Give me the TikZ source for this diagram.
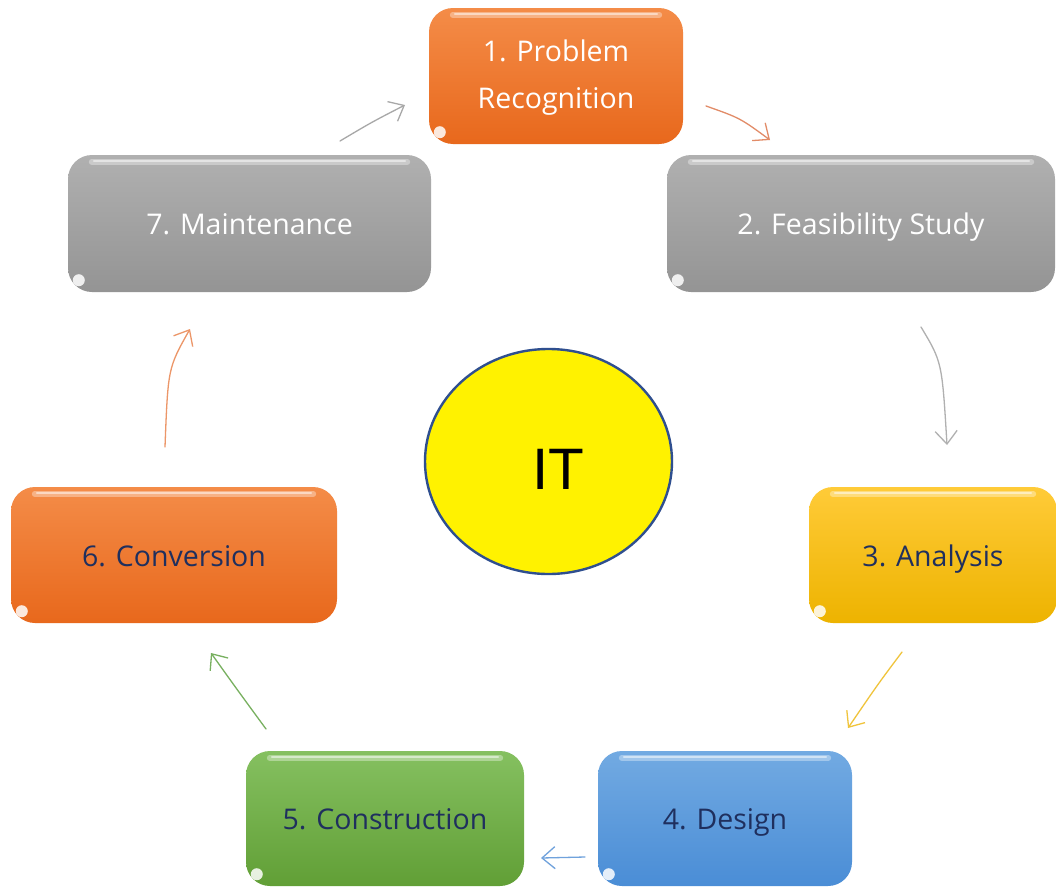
\documentclass[tikz,border=0pt]{standalone}
\usepackage{fontspec}
\setmainfont{Open Sans}
\newfontfamily\itfont{Liberation Sans}
\usetikzlibrary{arrows.meta,shadings,shapes.geometric}
\definecolor{navy}{HTML}{1F2F5E}
\definecolor{orT}{HTML}{F48C48}
\definecolor{orB}{HTML}{E8681C}
\definecolor{grT}{HTML}{B0B0B0}
\definecolor{grB}{HTML}{949494}
\definecolor{ylT}{HTML}{FFCB38}
\definecolor{ylB}{HTML}{EDB300}
\definecolor{blT}{HTML}{72AAE2}
\definecolor{blB}{HTML}{4A8DD6}
\definecolor{gnT}{HTML}{85C060}
\definecolor{gnB}{HTML}{619F36}
\definecolor{itblue}{HTML}{2F4F8F}
\tikzset{
  stagebox/.style={rounded corners=24pt, inner sep=0pt, align=center,
    font=\fontsize{28.5}{47}\selectfont, draw=none},
  oneline/.style={text height=26pt, text depth=3.7pt},
  orangebox/.style={stagebox, top color=orT, bottom color=orB},
  graybox/.style={stagebox, top color=grT, bottom color=grB},
  yellowbox/.style={stagebox, top color=ylT, bottom color=ylB},
  bluebox/.style={stagebox, top color=blT, bottom color=blB},
  greenbox/.style={stagebox, top color=gnT, bottom color=gnB},
  flow/.style={line width=1.3pt, line cap=round, -{Straight Barb[length=13pt,width=22pt,line width=1.3pt]}},
}
\begin{document}
\begin{tikzpicture}[x=1pt,y=-1pt]
\useasboundingbox (0,0) rectangle (1056,886);
\fill[white] (0,0) rectangle (1056,886);

\node[orangebox, minimum width=254pt, minimum height=136pt, text=white] (s1) at (556,76) {\begin{tabular}{@{}c@{}}1. Problem\\Recognition\end{tabular}};
\node[graybox, oneline, minimum width=388pt, minimum height=137pt, text=white] (s2) at (861,223.5) {2. Feasibility Study};
\node[yellowbox, oneline, minimum width=248pt, minimum height=136pt, text=navy] (s3) at (933,555) {3. Analysis};
\node[bluebox, oneline, minimum width=254pt, minimum height=135pt, text=navy] (s4) at (725,818.5) {4. Design};
\node[greenbox, oneline, minimum width=278pt, minimum height=135pt, text=navy] (s5) at (385,818.5) {5. Construction};
\node[orangebox, oneline, minimum width=326pt, minimum height=136pt, text=navy] (s6) at (174,555) {6. Conversion};
\node[graybox, oneline, minimum width=363pt, minimum height=137pt, text=white] (s7) at (249.5,223.5) {7. Maintenance};

\foreach \n in {s1,s2,s3,s4,s5,s6,s7}{
  \draw[white, opacity=0.35, line width=6pt, line cap=round]
    ([xshift=24pt,yshift=-7pt]\n.north west) -- ([xshift=-24pt,yshift=-7pt]\n.north east);
  \draw[white, opacity=0.5, line width=2pt, line cap=round]
    ([xshift=26pt,yshift=-6pt]\n.north west) -- ([xshift=-26pt,yshift=-6pt]\n.north east);
  \fill[white, opacity=0.85] ([xshift=11pt,yshift=12pt]\n.south west) circle (6pt);
}

\node[ellipse, draw=itblue, line width=2.4pt, fill=yellow, minimum width=247pt, minimum height=225pt] (it) at (548.5,461.5) {};
\node[font=\itfont\fontsize{58.5}{60}\selectfont, text=black, inner sep=0pt] (itlabel) at (558,469) {IT};

% connector end points
\coordinate (a71) at (340,141); \coordinate (b71) at (405,105);
\coordinate (a12) at (706,106); \coordinate (b12) at (770,140);
\coordinate (a23) at (921,327); \coordinate (b23) at (947,445);
\coordinate (a34) at (902,652); \coordinate (b34) at (848,728);
\coordinate (a45) at (585,857); \coordinate (b45) at (541,858);
\coordinate (a56) at (266,729); \coordinate (b56) at (211,653);
\coordinate (a67) at (165,447); \coordinate (b67) at (190,329);

\draw[flow, color={rgb,255:red,168;green,168;blue,168}] (a71) .. controls (372,122) .. (b71);
\draw[flow, color={rgb,255:red,226;green,140;blue,104}] (a12) .. controls (740,118) .. (b12);
\draw[flow, color={rgb,255:red,176;green,176;blue,176}] (a23) .. controls (942,362) .. (b23);
\draw[flow, color={rgb,255:red,240;green,196;blue,60}] (a34) .. controls (878,684) .. (b34);
\draw[flow, color={rgb,255:red,112;green,162;blue,220}] (a45) -- (b45);
\draw[flow, color={rgb,255:red,120;green,176;blue,96}] (a56) .. controls (236,688) .. (b56);
\draw[flow, color={rgb,255:red,236;green,150;blue,104}] (a67) .. controls (168,368) .. (b67);
\end{tikzpicture}
\end{document}
